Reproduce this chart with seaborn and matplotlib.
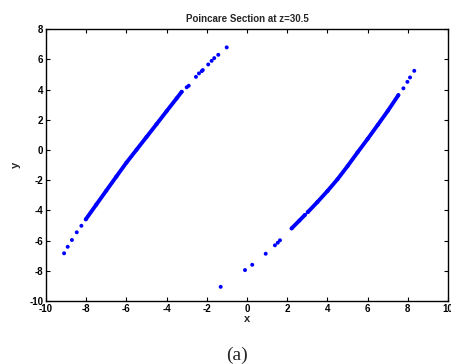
import matplotlib
matplotlib.use("Agg")
import matplotlib.pyplot as plt
import seaborn as sns
import pandas as pd

# ---- data ----
# left branch: densely filled part
left_dense_x = [-8.02, -7.50, -7.00, -6.50, -6.00, -5.50, -5.00, -4.50, -4.00, -3.50, -3.25]
left_dense_y = [-4.59, -3.62, -2.69, -1.76, -0.84, 0.01, 0.86, 1.71, 2.57, 3.42, 3.85]
# left branch: isolated points
left_sparse_x = [-9.10, -8.92, -8.71, -8.47, -8.24,
                 -3.00, -2.90, -2.54, -2.39, -2.25, -2.20, -1.93, -1.76, -1.63, -1.43, -1.01]
left_sparse_y = [-6.84, -6.41, -5.96, -5.45, -5.02,
                 4.15, 4.25, 4.84, 5.07, 5.22, 5.29, 5.66, 5.90, 6.08, 6.30, 6.79]

# right branch: densely filled part (two pieces separated by a small gap)
right_dense1_x = [2.22, 2.60, 2.88]
right_dense1_y = [-5.19, -4.68, -4.30]
right_dense2_x = [3.02, 3.50, 4.00, 4.50, 5.00, 5.50, 6.00, 6.50, 7.00, 7.53]
right_dense2_y = [-4.12, -3.45, -2.72, -1.94, -1.07, -0.16, 0.73, 1.65, 2.58, 3.63]
# right branch: isolated points
right_sparse_x = [-1.31, -0.10, 0.26, 0.93, 1.39, 1.53, 1.64, 7.78, 7.98, 8.11, 8.32]
right_sparse_y = [-9.06, -7.95, -7.60, -6.87, -6.31, -6.14, -5.98, 4.08, 4.51, 4.80, 5.24]

x_ticks = [-10, -8, -6, -4, -2, 0, 2, 4, 6, 8, 10]
y_ticks = [-10, -8, -6, -4, -2, 0, 2, 4, 6, 8]

title = "Poincare Section at z=30.5"
caption = "(a)"

BLUE = "#0000ff"

sns.set_style("ticks")
plt.rcParams['font.family'] = ['Liberation Sans', 'DejaVu Sans']

fig = plt.figure(figsize=(4.51, 3.64), dpi=100)
ax = fig.add_axes([0.102, 0.173, 0.8914, 0.747])

for dx, dy in [(left_dense_x, left_dense_y),
               (right_dense1_x, right_dense1_y),
               (right_dense2_x, right_dense2_y)]:
    df = pd.DataFrame({"x": dx, "y": dy})
    sns.lineplot(data=df, x="x", y="y", sort=False, estimator=None,
                 color=BLUE, lw=2.8, solid_capstyle="round", ax=ax)

pts = pd.DataFrame({
    "x": left_sparse_x + right_sparse_x + left_dense_x + right_dense1_x + right_dense2_x,
    "y": left_sparse_y + right_sparse_y + left_dense_y + right_dense1_y + right_dense2_y,
})
sns.scatterplot(data=pts, x="x", y="y", s=8, color=BLUE, edgecolor="none",
                linewidth=0, ax=ax)

ax.set_xlim(-10, 10)
ax.set_ylim(-10, 8)
ax.set_xticks(x_ticks)
ax.set_yticks(y_ticks)
ax.set_xticklabels([str(t) for t in x_ticks], fontweight="bold", fontsize=7)
ax.set_yticklabels([str(t) for t in y_ticks], fontweight="bold", fontsize=7)
ax.tick_params(direction="in", top=True, right=True, length=3, width=0.8,
               pad=2, colors="black")
for sp in ax.spines.values():
    sp.set_visible(True)
    sp.set_linewidth(1.0)
    sp.set_color("black")

ax.set_xlabel("x", fontweight="bold", fontsize=8, labelpad=0)
ax.set_ylabel("y", fontweight="bold", fontsize=8, labelpad=6)
ax.set_title(title, fontweight="bold", fontsize=7, pad=5)

fig.text(0.525, 0.012, caption, family="Liberation Serif", fontsize=14, ha="center")

fig.savefig("out.png", dpi=100)
